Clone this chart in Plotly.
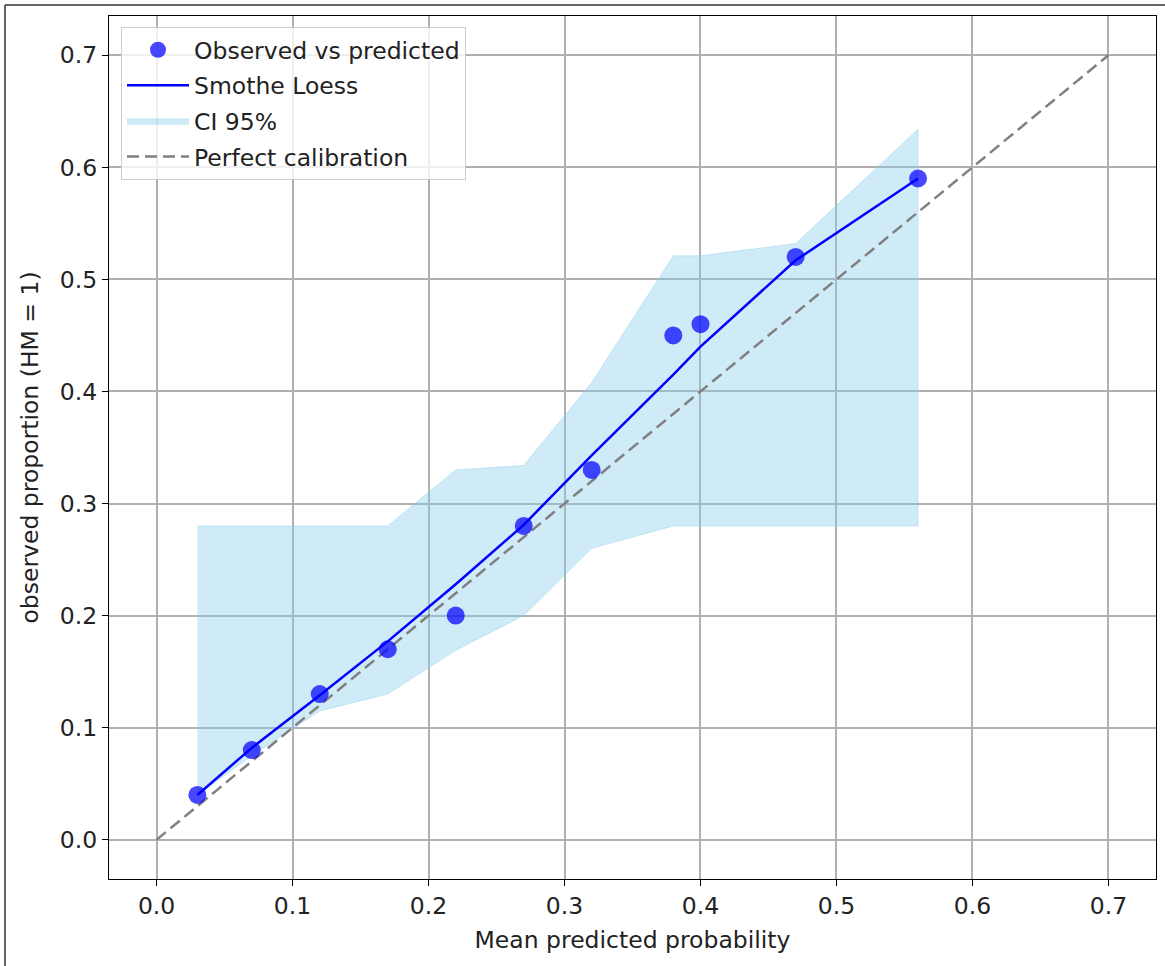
import plotly.graph_objects as go

# Data
pred = [0.03, 0.07, 0.12, 0.17, 0.22, 0.27, 0.32, 0.38, 0.40, 0.47, 0.56]
observed = [0.04, 0.08, 0.13, 0.17, 0.20, 0.28, 0.33, 0.45, 0.46, 0.52, 0.59]
loess = [0.04, 0.082, 0.129, 0.177, 0.228, 0.281, 0.343, 0.415, 0.44, 0.517, 0.59]
ci_upper = [0.28, 0.28, 0.28, 0.28, 0.33, 0.334, 0.408, 0.521, 0.521, 0.532, 0.634]
ci_lower = [0.04, 0.075, 0.115, 0.13, 0.169, 0.20, 0.26, 0.28, 0.28, 0.28, 0.28]
diag = [0.0, 0.7]
ticks = [0.0, 0.1, 0.2, 0.3, 0.4, 0.5, 0.6, 0.7]
tick_text = ["0.0", "0.1", "0.2", "0.3", "0.4", "0.5", "0.6", "0.7"]

FONT = "DejaVu Sans"
TXT = "#222222"
FS = 23.5

fig = go.Figure()

fig.add_trace(go.Scatter(
    x=pred + pred[::-1], y=ci_upper + ci_lower[::-1],
    fill="toself", fillcolor="rgba(135,206,235,0.4)",
    line=dict(color="rgba(135,206,235,0.4)", width=1),
    mode="lines", name="CI 95%", legendrank=3, legendgroup="c", hoverinfo="skip",
))
fig.add_trace(go.Scatter(
    x=diag, y=diag, mode="lines", name="Perfect calibration",
    line=dict(color="#808080", width=2.5, dash="12px,6px"), legendrank=4, legendgroup="d",
))
fig.add_trace(go.Scatter(
    x=pred, y=loess, mode="lines", name="Smothe Loess",
    line=dict(color="#0000ff", width=2.5), legendrank=2, legendgroup="b",
))
fig.add_trace(go.Scatter(
    x=pred, y=observed, mode="markers", name="Observed vs predicted",
    marker=dict(color="rgba(0,0,255,0.72)", size=18), legendrank=1, legendgroup="a",
))

axis_common = dict(
    range=[-0.035, 0.735], tickvals=ticks, ticktext=tick_text,
    showgrid=True, gridcolor="#b0b0b0", gridwidth=1.5,
    showline=True, linecolor="#000000", linewidth=1.3, mirror=True,
    ticks="outside", ticklen=6, tickwidth=1.3, tickcolor="#000000",
    zeroline=False, tickfont=dict(family=FONT, size=FS, color=TXT),
)

fig.update_xaxes(**axis_common,
                 title=dict(text="Mean predicted probability", standoff=12,
                            font=dict(family=FONT, size=FS, color=TXT)))
fig.update_yaxes(**axis_common,
                 title=dict(text="observed proportion (HM = 1)", standoff=14,
                            font=dict(family=FONT, size=FS, color=TXT)))

# figure border (top and left edges visible in the reference)
L, R, T, B = 109, 9, 16, 87
PW, PH = 1165 - L - R, 966 - T - B
def px_to_paper_x(px):
    return (px - L) / PW
def px_to_paper_y(py):
    return (966 - B - py) / PH

fig.add_shape(type="line", xref="paper", yref="paper",
              x0=px_to_paper_x(5), x1=px_to_paper_x(1165),
              y0=px_to_paper_y(5), y1=px_to_paper_y(5),
              line=dict(color="#333333", width=1.5))
fig.add_shape(type="line", xref="paper", yref="paper",
              x0=px_to_paper_x(5), x1=px_to_paper_x(5),
              y0=px_to_paper_y(5), y1=px_to_paper_y(966),
              line=dict(color="#333333", width=1.5))

fig.update_layout(
    width=1165, height=966,
    margin=dict(l=L, r=R, t=T, b=B),
    plot_bgcolor="white", paper_bgcolor="white",
    font=dict(family=FONT, size=FS, color=TXT),
    legend=dict(
        x=px_to_paper_x(121), y=px_to_paper_y(27), xanchor="left", yanchor="top",
        bgcolor="rgba(255,255,255,0.8)", bordercolor="#cccccc", borderwidth=1,
        font=dict(family=FONT, size=FS, color=TXT), itemwidth=62,
        traceorder="grouped", tracegroupgap=2,
    ),
    showlegend=True,
)

fig.write_html("out.html", config={"displayModeBar": False},
               post_script="document.body.style.margin='0';")
